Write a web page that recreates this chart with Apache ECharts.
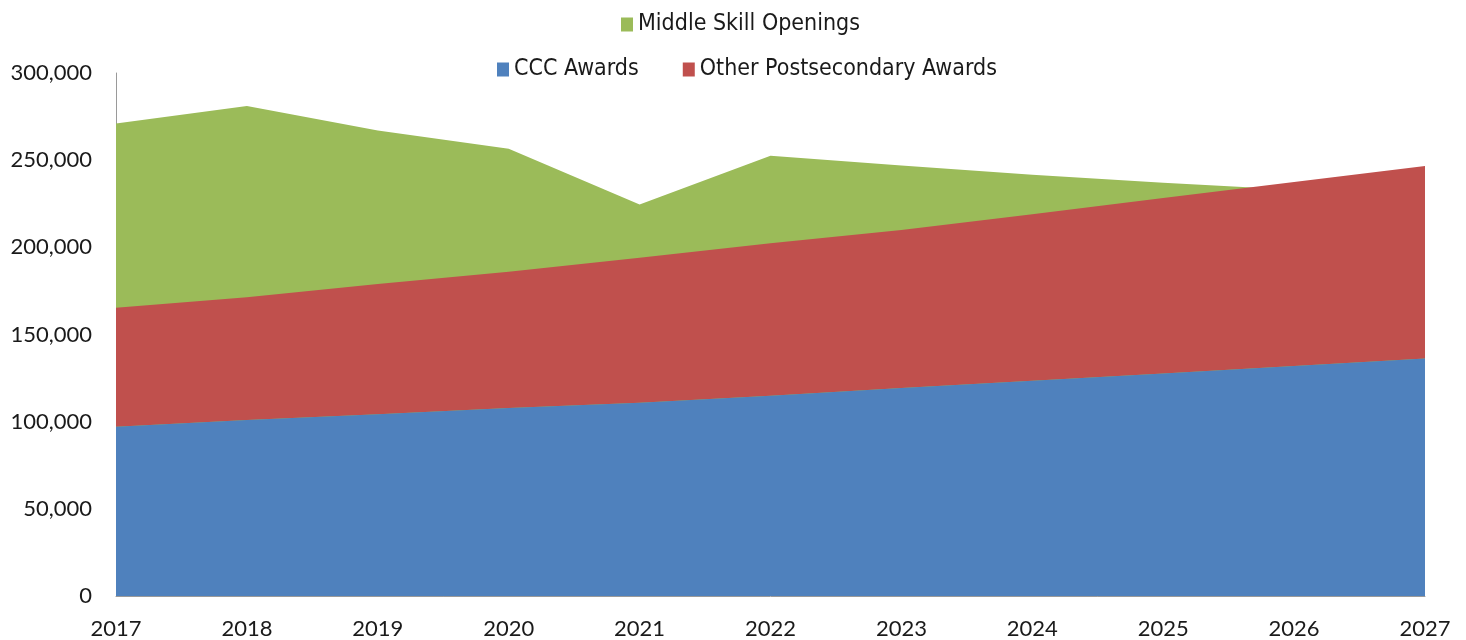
<!DOCTYPE html>
<html>
<head>
<meta charset="utf-8">
<script src="https://cdn.jsdelivr.net/npm/echarts@6/dist/echarts.min.js"></script>
<style>html,body{margin:0;padding:0;background:#fff}#c{width:1466px;height:640px}</style>
</head>
<body>
<div id="c"></div>
<script>
var years = ['2017','2018','2019','2020','2021','2022','2023','2024','2025','2026','2027'];
var middleSkillOpenings = [271000, 281000, 267000, 256500, 224500, 252500, 247000, 241700, 237000, 233000, 229000];
var cccAwards = [97100, 101000, 104200, 107800, 110900, 114900, 119300, 123400, 127700, 132000, 136300];
var otherAwards = [68300, 70300, 74800, 78200, 83100, 87400, 90700, 95600, 100600, 105500, 110400];
var yTicks = [0, 50000, 100000, 150000, 200000, 250000, 300000];

var chart = echarts.init(document.getElementById('c'));
var legendText = {fontFamily: "'Liberation Sans Narrow','DejaVu Sans Condensed','Liberation Sans',sans-serif", fontSize: 23, color: '#1a1a1a'};
chart.setOption({
  animation: false,
  legend: [
    {data: ['Middle Skill Openings'], top: 8, left: 616, itemWidth: 12, itemHeight: 14, icon: 'rect', itemGap: 6, textStyle: legendText},
    {data: ['CCC Awards', 'Other Postsecondary Awards'], top: 53, left: 492, itemWidth: 12, itemHeight: 14, icon: 'rect', itemGap: 44, textStyle: legendText}
  ],
  grid: {left: 116, right: 41, top: 73, bottom: 44, containLabel: false},
  xAxis: {
    type: 'category', data: years, boundaryGap: false,
    axisLine: {lineStyle: {color: '#9a9a9a', width: 1}},
    axisTick: {show: false},
    axisLabel: {fontFamily: 'Lato, sans-serif', fontSize: 22, color: '#1a1a1a', margin: 22}
  },
  yAxis: {
    type: 'value', min: 0, max: 300000, interval: 50000,
    axisLine: {show: true, lineStyle: {color: '#9a9a9a', width: 1}},
    axisTick: {show: false},
    splitLine: {show: false},
    axisLabel: {fontFamily: 'Lato, sans-serif', fontSize: 22, color: '#1a1a1a', margin: 24,
      formatter: function(v){ return yTicks.indexOf(v) >= 0 ? v.toLocaleString('en-US') : ''; }}
  },
  series: [
    {name: 'Middle Skill Openings', type: 'line', data: middleSkillOpenings, symbol: 'none',
      lineStyle: {width: 0}, areaStyle: {color: '#9BBB59', opacity: 1}, itemStyle: {color: '#9BBB59'}, z: 1},
    {name: 'CCC Awards', type: 'line', stack: 'awards', data: cccAwards, symbol: 'none',
      lineStyle: {width: 0}, areaStyle: {color: '#4F81BD', opacity: 1}, itemStyle: {color: '#4F81BD'}, z: 3},
    {name: 'Other Postsecondary Awards', type: 'line', stack: 'awards', data: otherAwards, symbol: 'none',
      lineStyle: {width: 0}, areaStyle: {color: '#C0504D', opacity: 1}, itemStyle: {color: '#C0504D'}, z: 2}
  ]
});
</script>
</body>
</html>
